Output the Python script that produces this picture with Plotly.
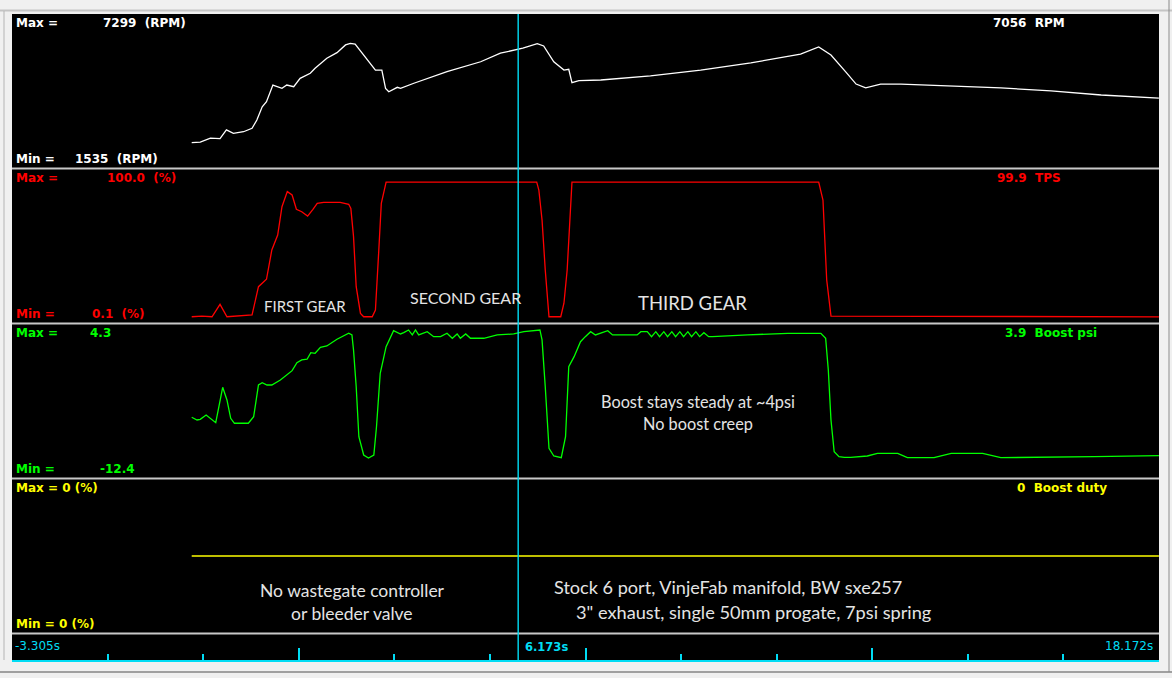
import plotly.graph_objects as go

# ---------------- data ----------------
T_START, T_END, T_CURSOR = -3.305, 18.172, 6.173

rpm_t = [0.06, 0.22, 0.41, 0.59, 0.71, 0.84, 1.03, 1.19, 1.28, 1.38,
         1.46, 1.58, 1.75, 1.84, 1.97, 2.09, 2.28, 2.37, 2.59, 2.78,
         2.94, 3.03, 3.12, 3.25, 3.37, 3.50, 3.62, 3.69, 3.75, 3.84,
         3.91, 3.97, 4.22, 4.84, 5.47, 5.84, 6.26, 6.53, 6.65, 6.84,
         7.03, 7.12, 7.18, 7.31, 7.72, 8.65, 9.59, 10.53, 11.46, 11.80,
         12.03, 12.31, 12.50, 12.68, 12.96, 13.34, 14.28, 15.21, 16.15, 17.09, 18.17]
rpm = [2400, 2430, 2620, 2600, 3030, 2860, 2940, 3110, 3520, 4170,
       4420, 5240, 5080, 5240, 5160, 5570, 5820, 6070, 6560, 6840,
       7220, 7299, 7260, 6810, 6390, 5980, 5980, 5080, 4910, 5030,
       5130, 5080, 5330, 5900, 6390, 6810, 7060, 7280, 7170, 6390,
       5980, 6020, 5360, 5460, 5490, 5690, 5980, 6330, 6770, 7120,
       6720, 5880, 5290, 5100, 5290, 5290, 5190, 5100, 4950, 4750, 4600]

tps_t = [0.06, 0.25, 0.44, 0.59, 0.72, 0.97, 1.09, 1.19, 1.31, 1.46,
         1.56, 1.67, 1.75, 1.85, 1.94, 2.02, 2.12, 2.23, 2.33, 2.41,
         2.53, 2.84, 3.00, 3.04, 3.09, 3.14, 3.22, 3.28, 3.44, 3.50,
         3.56, 3.61, 3.70, 6.52, 6.56, 6.62, 6.68, 6.75, 6.97, 7.03,
         7.09, 7.14, 7.18, 11.80, 11.88, 11.95, 12.03, 18.17]
tps = [0.2, 0.7, 0.2, 9.4, 0.2, 0.7, 1.3, 1.5, 22.5, 28.0,
       49.7, 60.8, 81.8, 93.0, 90.5, 79.9, 78.1, 74.9, 79.9, 84.3,
       85.1, 85.1, 83.6, 80.6, 59.6, 22.5, 2.7, 0.2, 0.2, 5.2,
       47.3, 84.3, 100.0, 100.0, 94.2, 72.0, 34.9, 0.2, 0.2, 10.2,
       34.9, 72.0, 100.0, 100.0, 86.8, 27.4, 0.7, 0.1]

boost_t = [0.06, 0.16, 0.22, 0.33, 0.51, 0.64, 0.72, 0.79, 0.86, 1.12,
           1.22, 1.31, 1.38, 1.47, 1.56, 1.72, 1.94, 2.03, 2.12, 2.22,
           2.29, 2.37, 2.47, 2.59, 2.78, 3.00, 3.06, 3.09, 3.14, 3.19,
           3.28, 3.37, 3.47, 3.52, 3.59, 3.70, 3.84, 3.97, 4.03, 4.12,
           4.19, 4.25, 4.31, 4.47, 4.59, 4.72, 4.84, 4.94, 5.03, 5.09,
           5.19, 5.28, 5.53, 5.78, 6.09, 6.28, 6.58, 6.62, 6.68, 6.75,
           6.84, 6.98, 7.06, 7.12, 7.22, 7.34, 7.43, 7.53, 7.62, 7.72,
           7.85, 7.94, 8.40, 8.47, 8.59, 8.67, 8.75, 8.82, 8.90, 8.97,
           9.05, 9.12, 9.20, 9.27, 9.35, 9.42, 9.50, 9.57, 9.65, 9.74,
           9.81, 10.47, 11.22, 11.84, 11.93, 11.98, 12.03, 12.09, 12.18, 12.28,
           12.40, 12.71, 12.90, 13.28, 13.46, 13.96, 14.28, 14.87, 15.21, 16.96,
           18.17]
boost = [-7.09, -7.44, -7.35, -6.79, -7.79, -3.18, -4.83, -7.22, -7.87, -7.87,
         -7.01, -2.88, -2.58, -2.88, -2.88, -2.22, -1.01, 0.03, 0.39, 0.48,
         1.34, 1.26, 2.04, 2.21, 3.09, 3.87, 3.65, 1.69, -3.10, -9.62,
         -12.01, -12.4, -12.01, -8.32, -1.35, 2.12, 4.21, 3.78, 3.95, 4.3,
         3.65, 4.3, 3.65, 4.08, 3.43, 3.43, 3.87, 3.22, 3.78, 3.22,
         3.78, 3.22, 3.22, 3.65, 3.78, 4.08, 4.3, 3.0, -3.10, -11.13,
         -12.14, -12.36, -9.62, -0.49, 0.82, 2.77, 3.43, 4.08, 3.65, 3.87,
         4.21, 3.65, 3.65, 4.08, 4.08, 3.43, 4.08, 3.43, 4.08, 3.43,
         4.08, 3.43, 4.08, 3.43, 4.08, 3.43, 4.08, 3.43, 3.95, 3.43,
         3.43, 3.65, 3.87, 3.87, 3.22, -0.92, -7.44, -11.58, -12.23, -12.31,
         -12.31, -12.14, -11.79, -11.79, -12.36, -12.36, -11.79, -11.79, -12.36, -12.23,
         -12.1]

duty_t = [0.06, 18.17]
duty = [0, 0]

# ---------------- layout helpers ----------------
W, H = 1172, 678
ML, MR, MT, MB = 12, 13, 14, 17
PW = W - ML - MR
PH = H - MT - MB


def px(x):
    return (x - ML) / PW


def py(y):
    return (H - MB - y) / PH


CYAN = '#00dcf4'
BOLD_FONT = 'DejaVu Sans'
NOTE_FONT = 'Lato'

fig = go.Figure()
common = dict(mode='lines', hoverinfo='skip', showlegend=False, xaxis='x')
fig.add_trace(go.Scatter(x=rpm_t, y=rpm, line=dict(color='#ffffff', width=1.3), yaxis='y', **common))
fig.add_trace(go.Scatter(x=tps_t, y=tps, line=dict(color='#ff0000', width=1.3), yaxis='y2', **common))
fig.add_trace(go.Scatter(x=boost_t, y=boost, line=dict(color='#00ff00', width=1.3), yaxis='y3', **common))
fig.add_trace(go.Scatter(x=duty_t, y=duty, line=dict(color='#ffff00', width=1.3), yaxis='y4', **common))

hidden = dict(visible=False, showgrid=False, zeroline=False, fixedrange=True, anchor='x')
span = T_END - T_START

fig.update_layout(
    width=W, height=H,
    margin=dict(l=ML, r=MR, t=MT, b=MB, pad=0),
    paper_bgcolor='#f0f0f0', plot_bgcolor='#000000',
    xaxis=dict(range=[T_START, T_END + 1e-6], anchor='free', position=0,
               showgrid=False, zeroline=False, showticklabels=False,
               showline=True, linecolor=CYAN, linewidth=2,
               ticks='inside', ticklen=12, tickwidth=2, tickcolor=CYAN,
               tickmode='linear', tick0=T_START, dtick=span / 4,
               minor=dict(ticks='inside', ticklen=6, tickwidth=2, tickcolor=CYAN,
                          tickmode='linear', tick0=T_START, dtick=span / 12, showgrid=False)),
    yaxis=dict(domain=[py(167), py(14)], range=[1201, 8744], **hidden),
    yaxis2=dict(domain=[py(322), py(170)], range=[-3.71, 109.05], **hidden),
    yaxis3=dict(domain=[py(477), py(325)], range=[-14.88, 4.95], **hidden),
    yaxis4=dict(domain=[py(632), py(480)], range=[-1, 1], **hidden),
)

shapes = []
# black scope background behind everything (covers gaps and time strip)
shapes.append(dict(type='rect', xref='paper', yref='paper', x0=0, x1=1, y0=0, y1=1,
                   fillcolor='#000000', line=dict(width=0), layer='below'))
# window frame
shapes.append(dict(type='line', xref='paper', yref='paper', x0=px(0), x1=px(W), y0=py(10.5), y1=py(10.5),
                   line=dict(color='#c4c4c4', width=2)))
shapes.append(dict(type='line', xref='paper', yref='paper', x0=px(4), x1=px(4), y0=py(11), y1=py(660),
                   line=dict(color='#b4b4b4', width=1)))
shapes.append(dict(type='line', xref='paper', yref='paper', x0=px(0), x1=px(W), y0=py(672), y1=py(672),
                   line=dict(color='#a0a0a0', width=2)))
shapes.append(dict(type='line', xref='paper', yref='paper', x0=px(1169), x1=px(1169), y0=py(0), y1=py(672),
                   line=dict(color='#8a8a8a', width=1)))
# panel separators
for ysep in [168.5, 323.5, 478.5, 633.5]:
    shapes.append(dict(type='line', xref='paper', yref='paper', x0=0, x1=1, y0=py(ysep), y1=py(ysep),
                       line=dict(color='#c8c8c8', width=2)))
# cursor
shapes.append(dict(type='line', xref='x', yref='paper', x0=T_CURSOR, x1=T_CURSOR, y0=0, y1=1,
                   line=dict(color=CYAN, width=1.4)))
fig.update_layout(shapes=shapes)


def label(text, x, y, color, size=12, weight='bold', family=BOLD_FONT, anchor='left'):
    fig.add_annotation(text=text, x=px(x), y=py(y), xref='paper', yref='paper',
                       xanchor=anchor, yanchor='middle', showarrow=False, borderpad=0,
                       font=dict(family=family, size=size, color=color, weight=weight))


NB = '\u00a0\u00a0'
# RPM panel
label('Max =', 15, 23, '#ffffff')
label(f'7299{NB}(RPM)', 102, 23, '#ffffff')
label('Min =', 15, 159, '#ffffff')
label(f'1535{NB}(RPM)', 74, 159, '#ffffff')
label(f'7056{NB}RPM', 992, 23, '#ffffff')
# TPS panel
label('Max =', 15, 178, '#ff0000')
label(f'100.0{NB}(%)', 106, 178, '#ff0000')
label('Min =', 15, 314, '#ff0000')
label(f'0.1{NB}(%)', 91, 314, '#ff0000')
label(f'99.9{NB}TPS', 996, 178, '#ff0000')
# Boost panel
label('Max =', 15, 333, '#00ff00')
label('4.3', 89, 333, '#00ff00')
label('Min =', 15, 469, '#00ff00')
label('-12.4', 99, 469, '#00ff00')
label(f'3.9{NB}Boost psi', 1004, 333, '#00ff00')
# Duty panel
label('Max = 0 (%)', 15, 488, '#ffff00')
label('Min = 0 (%)', 15, 624, '#ffff00')
label(f'0{NB}Boost duty', 1016, 488, '#ffff00')
# time strip
label('-3.305s', 14, 646, CYAN, size=12, weight='normal')
label('6.173s', 524, 647, CYAN, size=11.5)
label('18.172s', 1104, 646, CYAN, size=12, weight='normal')

# notes
NOTE = '#e4e4e4'
label('FIRST GEAR', 304.5, 306, NOTE, size=15, weight='normal', family=NOTE_FONT, anchor='center')
label('SECOND GEAR', 465.5, 297, NOTE, size=16, weight='normal', family=NOTE_FONT, anchor='center')
label('THIRD GEAR', 692, 303, NOTE, size=18.5, weight='normal', family=NOTE_FONT, anchor='center')
label('Boost stays steady at ~4psi', 698, 401, NOTE, size=16.3, weight='normal', family=NOTE_FONT, anchor='center')
label('No boost creep', 697.5, 423, NOTE, size=16.3, weight='normal', family=NOTE_FONT, anchor='center')
label('No wastegate controller', 352.5, 590, NOTE, size=17.5, weight='normal', family=NOTE_FONT, anchor='center')
label('or bleeder valve', 352, 613, NOTE, size=17.5, weight='normal', family=NOTE_FONT, anchor='center')
label('Stock 6 port, VinjeFab manifold, BW sxe257', 553, 587, NOTE, size=18.1, weight='normal', family=NOTE_FONT)
label('3" exhaust, single 50mm progate, 7psi spring', 575, 612, NOTE, size=18.2, weight='normal', family=NOTE_FONT)

fig.write_html('out.html', config={'displayModeBar': False})
